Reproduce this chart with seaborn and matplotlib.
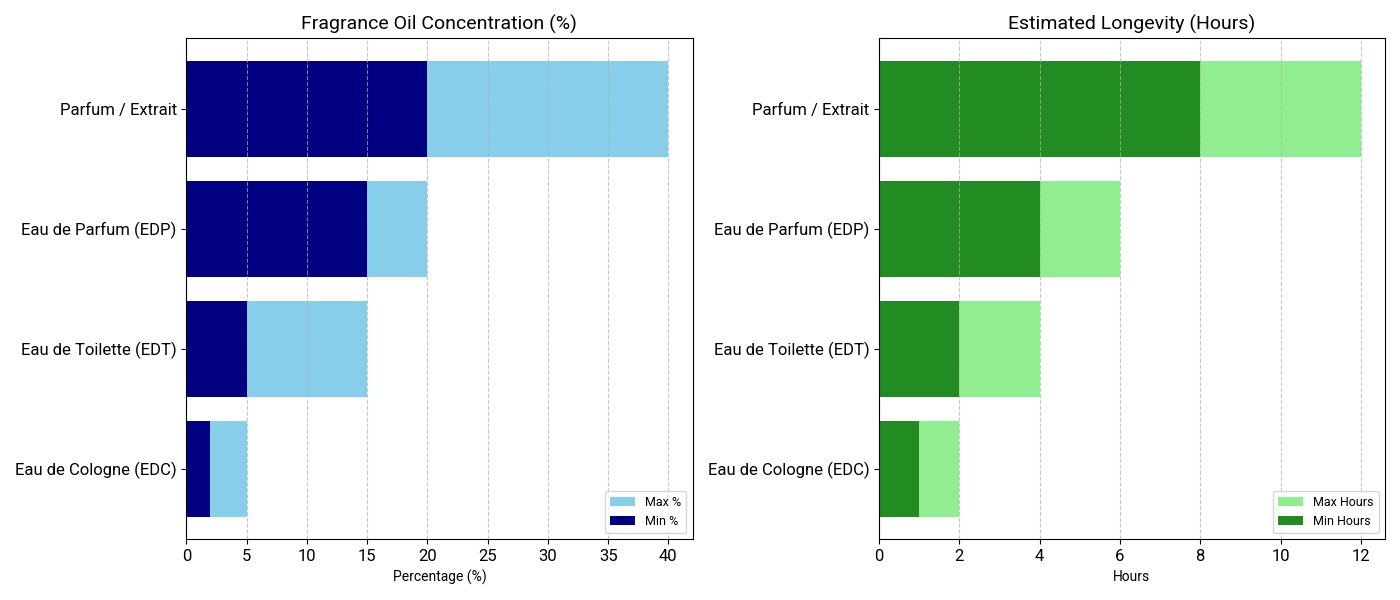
import matplotlib
matplotlib.use("Agg")
import matplotlib.pyplot as plt
import seaborn as sns
import pandas as pd

categories = ["Parfum / Extrait", "Eau de Parfum (EDP)", "Eau de Toilette (EDT)", "Eau de Cologne (EDC)"]
conc_min = [20, 15, 5, 2]
conc_max = [40, 20, 15, 5]
hours_min = [8, 4, 2, 1]
hours_max = [12, 6, 4, 2]

plt.rcParams['font.family'] = ['Roboto', 'DejaVu Sans']
plt.rcParams['axes.axisbelow'] = 'line'

df = pd.DataFrame({"cat": categories, "cmin": conc_min, "cmax": conc_max,
                   "hmin": hours_min, "hmax": hours_max})

fig, axes = plt.subplots(1, 2, figsize=(14, 6), dpi=100)

def panel(ax, mincol, maxcol, cmax, cmin, lmax, lmin, title, xlabel):
    sns.barplot(data=df, x=maxcol, y="cat", order=categories, color=cmax, saturation=1,
                errorbar=None, width=0.8, label=lmax, ax=ax, orient="h")
    sns.barplot(data=df, x=mincol, y="cat", order=categories, color=cmin, saturation=1,
                errorbar=None, width=0.8, label=lmin, ax=ax, orient="h")
    ax.set_ylim(3.59, -0.59)
    ax.set_title(title, fontsize=14)
    ax.set_xlabel(xlabel, fontsize=10)
    ax.set_ylabel("")
    ax.tick_params(axis='both', labelsize=12)
    ax.grid(axis='x', linestyle='--', alpha=0.7, zorder=1.5)
    ax.legend(loc="lower right", fontsize=9)

panel(axes[0], "cmin", "cmax", "skyblue", "navy", "Max %", "Min %",
      "Fragrance Oil Concentration (%)", "Percentage (%)")
panel(axes[1], "hmin", "hmax", "lightgreen", "forestgreen", "Max Hours", "Min Hours",
      "Estimated Longevity (Hours)", "Hours")

plt.tight_layout()
plt.savefig("out.png")
